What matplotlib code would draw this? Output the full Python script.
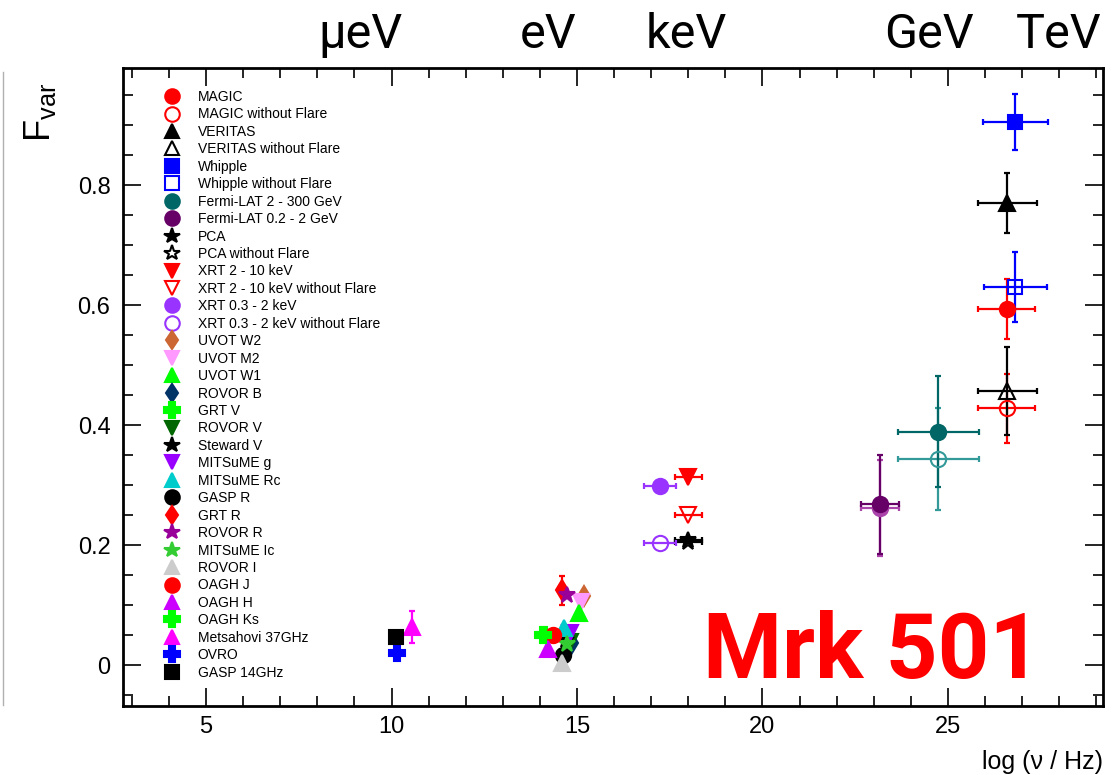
import matplotlib
matplotlib.use("Agg")
import matplotlib.pyplot as plt
from matplotlib.lines import Line2D
from matplotlib.ticker import MultipleLocator, FuncFormatter

plt.rcParams['font.family'] = ['Liberation Sans', 'DejaVu Sans']
plt.rcParams['mathtext.fontset'] = 'custom'
plt.rcParams['mathtext.rm'] = 'Liberation Sans'
plt.rcParams['mathtext.it'] = 'Liberation Sans'

# ---- data: Mrk 501 fractional variability vs. frequency ----
names = [
    "MAGIC", "MAGIC without Flare", "VERITAS", "VERITAS without Flare",
    "Whipple", "Whipple without Flare", "Fermi-LAT 2 - 300 GeV",
    "Fermi-LAT 0.2 - 2 GeV", "PCA", "PCA without Flare", "XRT 2 - 10 keV",
    "XRT 2 - 10 keV without Flare", "XRT 0.3 - 2 keV",
    "XRT 0.3 - 2 keV without Flare", "UVOT W2", "UVOT M2", "UVOT W1",
    "ROVOR B", "GRT V", "ROVOR V", "Steward V", "MITSuME g", "MITSuME Rc",
    "GASP R", "GRT R", "ROVOR R", "MITSuME Ic", "ROVOR I", "OAGH J",
    "OAGH H", "OAGH Ks", "Metsahovi 37GHz", "OVRO", "GASP 14GHz",
    "_Fermi-LAT 2 - 300 GeV without Flare", "_Fermi-LAT 0.2 - 2 GeV without Flare",
]
log_nu = [
    26.58, 26.58, 26.60, 26.60,
    26.82, 26.82, 24.74,
    23.17, 18.00, 18.00, 18.00,
    18.00, 17.24,
    17.24, 15.19, 15.10, 15.05,
    14.86, 14.10, 14.81, 14.70, 14.82, 14.66,
    14.63, 14.59, 14.72, 14.72, 14.59, 14.36,
    14.23, 14.09, 10.56, 10.14, 10.11,
    24.74, 23.17,
]
fvar = [
    0.593, 0.428, 0.770, 0.457,
    0.905, 0.630, 0.389,
    0.268, 0.208, 0.206, 0.314,
    0.250, 0.299,
    0.203, 0.115, 0.105, 0.087,
    0.037, 0.050, 0.039, 0.042, 0.053, 0.062,
    0.017, 0.125, 0.117, 0.036, 0.003, 0.050,
    0.027, 0.051, 0.064, 0.020, 0.047,
    0.343, 0.262,
]
log_nu_err = [
    0.78, 0.78, 0.79, 0.79,
    0.87, 0.86, 1.09,
    0.52, 0.37, 0.37, 0.37,
    0.37, 0.44,
    0.44, 0, 0, 0,
    0, 0, 0, 0, 0, 0,
    0, 0, 0, 0, 0, 0,
    0, 0, 0, 0, 0,
    1.09, 0.52,
]
fvar_err = [
    0.050, 0.057, 0.050, 0.073,
    0.046, 0.058, 0.092,
    0.082, 0, 0, 0,
    0, 0,
    0, 0, 0, 0,
    0, 0, 0, 0, 0, 0,
    0, 0.024, 0, 0, 0, 0,
    0, 0, 0.027, 0, 0,
    0.085, 0.080,
]

# ---- styles ----
markers = [
    'o', 'o', '^', '^',
    's', 's', 'o',
    'o', '*', '*', 'v',
    'v', 'o',
    'o', 'd', 'v', '^',
    'd', 'P', 'v', '*', 'v', '^',
    'o', 'd', '*', '*', '^', 'o',
    '^', 'P', '^', 'P', 's',
    'o', 'o',
]
colors = [
    '#ff0000', '#ff0000', '#000000', '#000000',
    '#0000ff', '#0000ff', '#006666',
    '#660066', '#000000', '#000000', '#ff0000',
    '#ff0000', '#9933ff',
    '#9933ff', '#cc6633', '#ff99ff', '#00ff00',
    '#003366', '#00ff00', '#006600', '#000000', '#9900ff', '#00cccc',
    '#000000', '#ff0000', '#990099', '#33cc33', '#cccccc', '#ff0000',
    '#cc00ff', '#00ff00', '#ff00ff', '#0000ff', '#000000',
    '#339999', '#aa44aa',
]
filled = [
    True, False, True, False,
    True, False, True,
    True, True, False, True,
    False, True,
    False, True, True, True,
    True, True, True, True, True, True,
    True, True, True, True, True, True,
    True, True, True, True, True,
    False, True,
]
sizes = {'o': 11, '^': 11, 'v': 11, 's': 10, '*': 12, 'd': 10, 'P': 12}

fig = plt.figure(figsize=(11.17, 7.75), dpi=100)
W, H = 1117, 775
ax = fig.add_axes([123 / W, 1 - 706 / H, (1103 - 123) / W, (706 - 68) / H])

handles = []
order = list(range(34, 36)) + list(range(0, 34))
for i in order:
    c = colors[i]
    xe = log_nu_err[i] if log_nu_err[i] > 0 else None
    ye = fvar_err[i] if fvar_err[i] > 0 else None
    if xe is not None or ye is not None:
        ax.errorbar([log_nu[i]], [fvar[i]], xerr=xe, yerr=ye, fmt='none',
                    ecolor=c, elinewidth=1.6, capsize=2, capthick=1.6, zorder=2)
    ln, = ax.plot([log_nu[i]], [fvar[i]], linestyle='none', marker=markers[i],
                  ms=sizes[markers[i]], color=c,
                  mfc=c if filled[i] else 'none', mec=c, mew=1.5,
                  label=names[i], zorder=3)
    if not names[i].startswith('_'):
        handles.append(ln)

handles.sort(key=lambda h: names.index(h.get_label()))
ax.legend(handles=handles, loc='upper left',
          bbox_to_anchor=(162 / W, 1 - 90 / H), bbox_transform=fig.transFigure,
          frameon=False, fontsize=10, labelspacing=0.248, handlelength=1.4,
          handletextpad=1.17, borderpad=0, borderaxespad=0, numpoints=1,
          markerscale=0.95)

ax.set_xlim(2.76, 29.18)
ax.set_ylim(-0.068, 0.995)
ax.xaxis.set_major_locator(MultipleLocator(5))
ax.xaxis.set_minor_locator(MultipleLocator(1))
ax.yaxis.set_major_locator(MultipleLocator(0.2))
ax.yaxis.set_minor_locator(MultipleLocator(0.05))
ax.yaxis.set_major_formatter(FuncFormatter(lambda v, _: f'{v:g}'))
ax.tick_params(which='both', direction='in', top=True, right=True, width=1.2,
               labelsize=17)
ax.tick_params(which='major', length=13)
ax.tick_params(which='minor', length=7)
ax.tick_params(axis='y', pad=9)
ax.tick_params(axis='x', pad=7)
for s in ax.spines.values():
    s.set_linewidth(2)

ax.set_xlabel('log (\u03bd / Hz)', loc='right', fontsize=18, labelpad=9)

fig.text(40 / W, 1 - 112 / H, r'F$_{\mathrm{var}}$', rotation=90,
         ha='center', va='center', fontsize=26)

# energy scale along the top
for lab, xc in [('\u03bceV', 360), ('eV', 548), ('keV', 686), ('GeV', 929), ('TeV', 1059)]:
    fig.text(xc / W, 1 - 48 / H, lab, ha='center', va='baseline',
             fontsize=35, family='Roboto')

fig.text(703 / W, 1 - 678 / H, 'Mrk 501', ha='left', va='baseline',
         fontsize=65, family='Roboto', weight='bold', color='#ff0000')

fig.add_artist(Line2D([3 / W, 3 / W], [1 - 705 / H, 1 - 72 / H],
                      transform=fig.transFigure, color='#b0b0b0', lw=1))

fig.savefig('out.png', dpi=100)
